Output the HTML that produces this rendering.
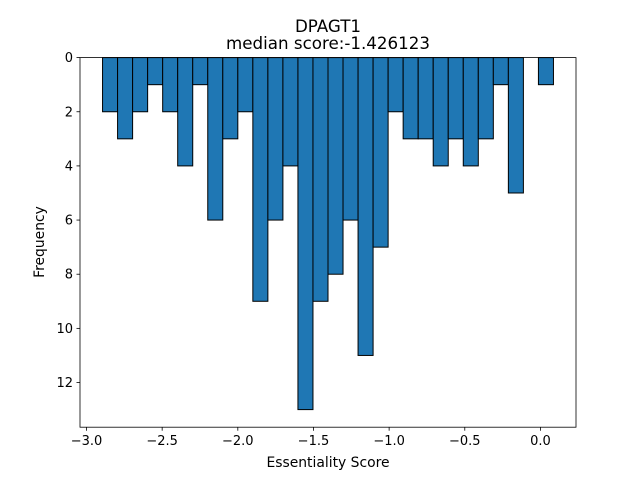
<!DOCTYPE html>
<html><head><meta charset="utf-8"><style>
body{margin:0;background:#fff;font-family:"Liberation Sans","DejaVu Sans",sans-serif;}
svg text{font-family:"DejaVu Sans","Liberation Sans",sans-serif;}
</style></head><body>
<svg id="chart" width="640" height="480" xmlns="http://www.w3.org/2000/svg">
<rect width="640" height="480" fill="#fff"/>
<text x="328" y="32" text-anchor="middle" font-size="16.7">DPAGT1</text>
<text x="328" y="49" text-anchor="middle" font-size="16.7">median score:-1.426123</text>
<g id="bars"></g>
<g id="xticks"></g>
<g id="yticks"></g>
<rect x="80" y="57.6" width="496" height="369.6" fill="none" stroke="#000" stroke-width="0.8"/>
<text x="328" y="467" text-anchor="middle" font-size="13.9">Essentiality Score</text>
<text x="44" y="242" text-anchor="middle" font-size="13.9" transform="rotate(-90 44 242)">Frequency</text>
</svg>
<script>
const binMin = -2.894;
const binMax = 0.086;
const counts = [2,3,2,1,2,4,1,6,3,2,9,6,4,13,9,8,6,11,7,2,3,3,4,3,4,3,1,5,0,1];
const xTicks = [-3.0,-2.5,-2.0,-1.5,-1.0,-0.5,0.0];
const xTickLabels = ["\u22123.0","\u22122.5","\u22122.0","\u22121.5","\u22121.0","\u22120.5","0.0"];
const yTicks = [0,2,4,6,8,10,12];

const L=80,R=576,T=57.6,B=427.2;
const range=binMax-binMin;
const xMin=binMin-0.05*range, xMax=binMax+0.05*range;
const yMax=Math.max(...counts)*1.05;
const sx=v=>L+(v-xMin)/(xMax-xMin)*(R-L);
const sy=v=>T+v/yMax*(B-T);
const NS="http://www.w3.org/2000/svg";
const bars=document.getElementById('bars');
const w=range/counts.length;
counts.forEach((c,i)=>{
  if(c<=0) return;
  const r=document.createElementNS(NS,'rect');
  const x0=sx(binMin+i*w), x1=sx(binMin+(i+1)*w);
  r.setAttribute('x',x0);r.setAttribute('y',sy(0));
  r.setAttribute('width',x1-x0);r.setAttribute('height',sy(c)-sy(0));
  r.setAttribute('fill','#1f77b4');r.setAttribute('stroke','#000');r.setAttribute('stroke-width','1');
  
  
  bars.appendChild(r);
});
const xg=document.getElementById('xticks');
xTicks.forEach((v,i)=>{
  const x=sx(v);
  const l=document.createElementNS(NS,'line');
  l.setAttribute('x1',x);l.setAttribute('x2',x);l.setAttribute('y1',B);l.setAttribute('y2',B+3.5);
  l.setAttribute('stroke','#000');l.setAttribute('stroke-width','0.8');
  
  
  xg.appendChild(l);
  const t=document.createElementNS(NS,'text');
  t.setAttribute('x',x);t.setAttribute('y',B+18);t.setAttribute('text-anchor','middle');t.setAttribute('font-size','13');
  t.textContent=xTickLabels[i];
  
  
  xg.appendChild(t);
});
const yg=document.getElementById('yticks');
yTicks.forEach(v=>{
  const y=sy(v);
  const l=document.createElementNS(NS,'line');
  l.setAttribute('x1',L-3.5);l.setAttribute('x2',L);l.setAttribute('y1',y);l.setAttribute('y2',y);
  l.setAttribute('stroke','#000');l.setAttribute('stroke-width','0.8');
  
  
  yg.appendChild(l);
  const t=document.createElementNS(NS,'text');
  t.setAttribute('x',L-7);t.setAttribute('y',y+4.5);t.setAttribute('text-anchor','end');t.setAttribute('font-size','13');
  t.textContent=v;
  
  
  yg.appendChild(t);
});
</script>
</body></html>
